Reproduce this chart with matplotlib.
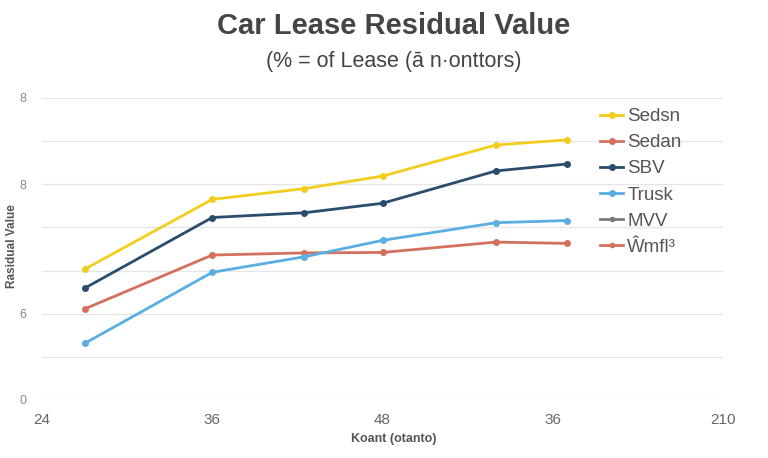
import matplotlib
matplotlib.use("Agg")
import matplotlib.pyplot as plt
from matplotlib.lines import Line2D

plt.rcParams['font.family'] = ['Liberation Sans', 'DejaVu Sans']

# Data
months = [27, 36, 42.5, 48, 56, 61]
sedsn = [30.3, 46.5, 49.0, 51.9, 59.1, 60.3]
sbv = [25.9, 42.3, 43.4, 45.6, 53.1, 54.7]
sedan = [21.1, 33.6, 34.1, 34.2, 36.6, 36.3]
trusk = [13.1, 29.6, 33.2, 37.0, 41.1, 41.6]

x_ticks = [24, 36, 48, 60, 72]
x_tick_labels = ["24", "36", "48", "36", "210"]
y_ticks = [0, 10, 20, 30, 40, 50, 60, 70]
y_tick_labels = ["0", "", "6", "", "", "8", "", "8"]

legend_labels = ["Sedsn", "Sedan", "SBV", "Trusk", "MVV", "Ŵmfl³"]

c_yellow = "#F3CD1E"
c_red = "#D4705E"
c_navy = "#2A4D6E"
c_light = "#5AAEE2"
c_gray = "#7A7A7A"

W, H = 768, 458
fig = plt.figure(figsize=(W / 100, H / 100), dpi=100)
ax = fig.add_axes([42 / W, (H - 400) / H, (723 - 42) / W, (400 - 98) / H])

l1, = ax.plot(months, sedsn, color=c_yellow, lw=2, marker='o', ms=4, zorder=3)
l2, = ax.plot(months, sedan, color=c_red, lw=2, marker='o', ms=4, zorder=3)
l3, = ax.plot(months, sbv, color=c_navy, lw=2, marker='o', ms=4, zorder=3)
l4, = ax.plot(months, trusk, color=c_light, lw=2, marker='o', ms=4, zorder=3)
p5 = Line2D([], [], color=c_gray, lw=2, marker='o', ms=3)
p6 = Line2D([], [], color=c_red, lw=2, marker='o', ms=3)

ax.set_xlim(24, 72)
ax.set_ylim(0, 70)
ax.set_xticks(x_ticks)
ax.set_xticklabels(x_tick_labels, fontsize=11, color="#666666")
ax.set_yticks(y_ticks)
ax.set_yticklabels(y_tick_labels, fontsize=9, color="#888888")
ax.tick_params(axis='both', length=0)
ax.tick_params(axis='x', pad=9)
ax.tick_params(axis='y', pad=11)
ax.grid(axis='y', color="#E6E6E6", lw=1)
ax.set_axisbelow(True)
for s in ax.spines.values():
    s.set_visible(False)

ax.set_xlabel("Koant (otanto)", fontsize=9, fontweight='bold', color="#555555")
ax.xaxis.set_label_coords((394 - 42) / 681, (400 - 433) / 302)
fig.text(12 / W, 1 - 246 / H, "Rasidual Value", rotation=90, fontsize=8.5,
         fontweight='bold', color="#555555", ha='center', va='center')

fig.text(394 / W, 1 - 26 / H, "Car Lease Residual Value", fontsize=21,
         fontweight='bold', color="#454545", ha='center', va='center')
fig.text(394 / W, 1 - 61 / H, "(% = of Lease (ā n·onttors)", fontsize=15.5,
         color="#444444", ha='center', va='center')

leg = ax.legend([l1, l2, l3, l4, p5, p6], legend_labels, loc='upper left',
                bbox_to_anchor=(600 / W, 1 - 108 / H), bbox_transform=fig.transFigure,
                frameon=False, fontsize=13.5, handlelength=1.25, handletextpad=0.2,
                labelspacing=0.48, borderaxespad=0, borderpad=0)
for t in leg.get_texts():
    t.set_color("#555555")

fig.savefig("out.png", dpi=100, facecolor="white")
